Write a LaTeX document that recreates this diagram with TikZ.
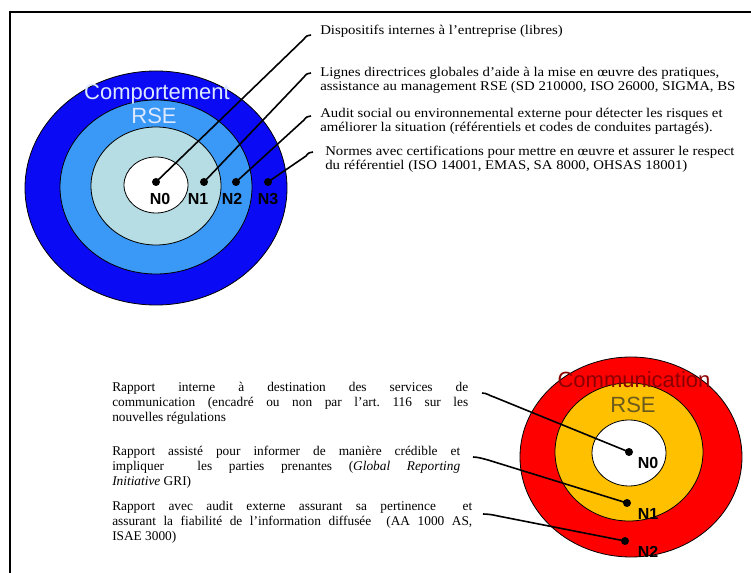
\documentclass[tikz,border=0pt]{standalone}
\usepackage{fontspec}
\setmainfont{Liberation Serif}
\setsansfont{Liberation Sans}
\usepackage{graphicx}
\usepackage{xcolor}
\definecolor{darkblue}{HTML}{0A0AF5}
\definecolor{midblue}{HTML}{3A98F6}
\definecolor{paleblue}{HTML}{B6DDE3}
\definecolor{ringred}{HTML}{FF0000}
\definecolor{ringyellow}{HTML}{FFC000}
\definecolor{titleblue}{HTML}{DCE8FF}
\definecolor{titlered}{HTML}{8B0000}
\definecolor{titlebrown}{HTML}{6B5A1E}
% Top texts are a little wider than they are high
\newcommand{\wideline}[1]{\scalebox{1.11}[1]{#1}}

\begin{document}
\begin{tikzpicture}[x=0.75pt,y=-0.75pt,
    ring/.style={draw=black,line width=0.6pt},
    dot/.style={circle,fill=black,inner sep=0pt,minimum size=6pt},
    lvl/.style={font=\sffamily\bfseries\fontsize{12}{12}\selectfont},
    title/.style={font=\sffamily\fontsize{16.5}{17}\selectfont},
    note/.style={align=left,anchor=base west,inner sep=0pt,font=\fontsize{10}{11}\selectfont},
    para/.style={align=left,anchor=base west,inner sep=0pt,font=\fontsize{10}{11.25}\selectfont},
    conn/.style={line width=1.2pt}]
  \useasboundingbox (0,0) rectangle (751,573);
  \fill[white] (0,0) rectangle (751,573);
  % Frame of the page
  \draw[line width=1.5pt] (10,573) -- (10,12) -- (751,12);

  % Blue target (comportement)
  \foreach \cy/\rx/\ry/\col in {188/131/117/darkblue,187/96/87/midblue,186/65/59/paleblue,185/32/28/white} {
    \draw[ring,fill=\col] (156,\cy) ellipse [x radius=\rx, y radius=\ry];
  }
  \node[title,text=titleblue] (tc) at (157,94) {Comportement};
  \node[title,text=titleblue] (tr) at (154,116) {RSE};

  % Texts of the levels (base = last line)
  \node[note] (t0) at (320,35) {\wideline{Dispositifs internes à l'entreprise (libres)}};
  \node[note] (t1) at (320,91) {\wideline{Lignes directrices globales d'aide à la mise en œuvre des pratiques,}\\
    \wideline{assistance au management RSE (SD 210000, ISO 26000, SIGMA, BS}};
  \node[note] (t2) at (320,132) {\wideline{Audit social ou environnemental externe pour détecter les risques et}\\
    \wideline{améliorer la situation (référentiels et codes de conduites partagés).}};
  \node[note] (t3) at (325,170) {\wideline{Normes avec certifications pour mettre en œuvre et assurer le respect}\\
    \wideline{du référentiel (ISO 14001, EMAS, SA 8000, OHSAS 18001)}};

  % Dots and level names
  \foreach \i/\dx/\lx in {0/156/160,1/204/198,2/236/232,3/268/268} {
    \node[dot] (d\i) at (\dx,182) {};
    \node[lvl] (l\i) at (\lx,199) {N\i};
  }
  % Hooks in front of the texts
  \coordinate (b0) at (304,39);  \coordinate (e0) at (311,35);
  \coordinate (b1) at (304,77);  \coordinate (e1) at (311,73);
  \coordinate (b2) at (304,120); \coordinate (e2) at (311,116);
  \coordinate (b3) at (306,156); \coordinate (e3) at (313,152);
  \foreach \i in {0,...,3} {
    \draw[conn] (d\i.center) -- (b\i) .. controls +(2,-3) and +(-3,0) .. (e\i);
  }

  % Red target (communication)
  \foreach \cx/\cy/\rx/\ry/\col in {631/457/111/100/ringred,629/452/74/69/ringyellow,629/453/37/33/white} {
    \draw[ring,fill=\col] (\cx,\cy) ellipse [x radius=\rx, y radius=\ry];
  }
  \node[title,text=titlered] (cc) at (634,380) {Communication};
  \node[title,text=titlebrown] (cr) at (633,405) {RSE};

  % Reports (base = last line)
  \def\wa{267pt}
  \def\wb{261pt}
  \def\wc{270pt}
  \node[para] (p0) at (112,422) {\makebox[\wa][s]{Rapport interne à destination des services de}\\
    \makebox[\wa][s]{communication (encadré ou non par l'art.\ 116 sur les}\\
    nouvelles régulations};
  \node[para] (p1) at (112,486) {\makebox[\wb][s]{Rapport assisté pour informer de manière crédible et}\\
    \makebox[\wb][s]{impliquer\ \ les parties prenantes (\textit{Global Reporting}}\\
    \textit{Initiative} GRI)};
  \node[para] (p2) at (112,541) {\makebox[\wc][s]{Rapport avec audit externe assurant sa pertinence\ \ et}\\
    \makebox[\wc][s]{assurant la fiabilité de l'information diffusée\ \ (AA 1000 AS,}\\
    ISAE 3000)};

  % Dots and level names
  \foreach \i/\dx/\dy in {0/629/452,1/627/503,2/625/541} {
    \node[dot] (n\i) at (\dx,\dy) {};
    \node[lvl] (m\i) at (648,\dy+11) {N\i};
  }
  \coordinate (s0) at (482,393); \coordinate (k0) at (494,397);
  \coordinate (s1) at (473,457); \coordinate (k1) at (488,460);
  \coordinate (s2) at (483,514); \coordinate (k2) at (498,516);
  \foreach \i in {0,1,2} {
    \draw[conn] (s\i) .. controls +(5,0) and +(-4,-1) .. (k\i) -- (n\i.center);
  }
\end{tikzpicture}
\end{document}
